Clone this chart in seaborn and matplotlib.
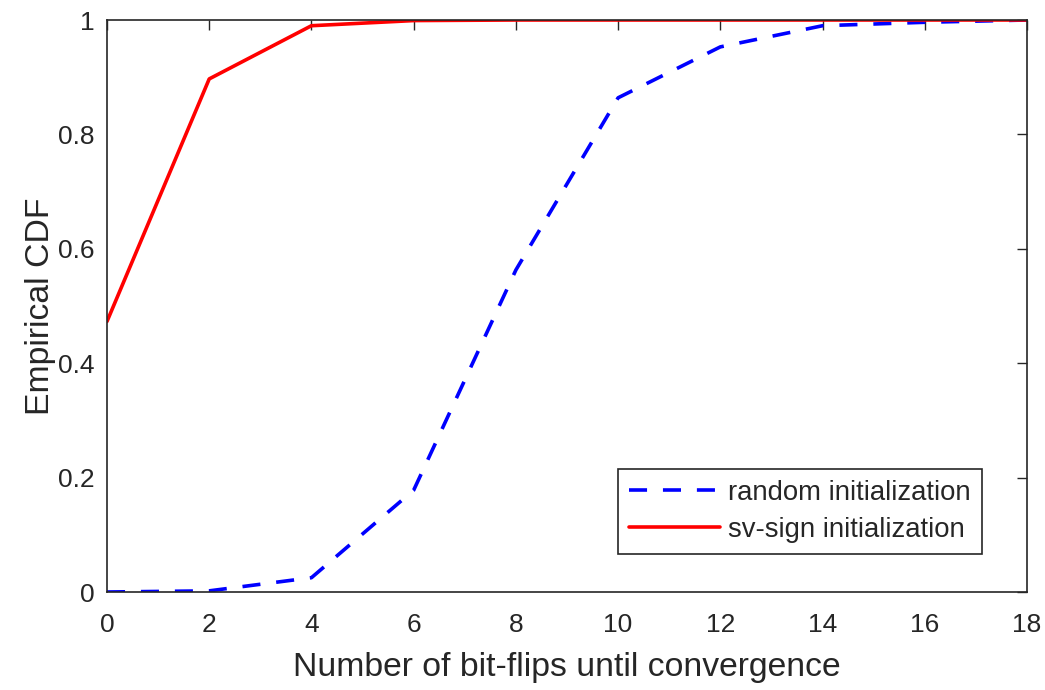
import pandas as pd
import matplotlib
matplotlib.use("Agg")
import matplotlib.pyplot as plt
import seaborn as sns

# values
flips = [0, 2, 4, 6, 8, 10, 12, 14, 16, 18]
cdf_random = [0.0, 0.002, 0.025, 0.178, 0.563, 0.864, 0.953, 0.990, 0.996, 1.0]
cdf_svsign = [0.473, 0.897, 0.990, 0.999, 1.0, 1.0, 1.0, 1.0, 1.0, 1.0]

df = pd.DataFrame({"flips": flips, "random": cdf_random, "svsign": cdf_svsign})

sns.set_style("white")
plt.rcParams['font.family'] = ['Liberation Sans', 'DejaVu Sans']

fig = plt.figure(figsize=(10.45, 6.9), dpi=100)
ax = fig.add_axes([107 / 1045, 1 - 592 / 690, 920 / 1045, 572 / 690])

sns.lineplot(data=df, x="flips", y="random", ax=ax, color="#0000ff",
             linewidth=2.6, linestyle=(0, (5.0, 4.4)), label="random initialization")
sns.lineplot(data=df, x="flips", y="svsign", ax=ax, color="#ff0000",
             linewidth=2.6, label="sv-sign initialization")

ax.set_xlim(0, 18)
ax.set_ylim(0, 1)
ax.set_xticks(range(0, 19, 2))
ax.set_yticks([0, 0.2, 0.4, 0.6, 0.8, 1])
ax.set_yticklabels(["0", "0.2", "0.4", "0.6", "0.8", "1"])
ax.tick_params(direction="in", length=7, width=1, colors="#262626",
               top=True, right=True, labelsize=19)
ax.tick_params(axis="x", pad=15)
ax.tick_params(axis="y", pad=9)
for s in ax.spines.values():
    s.set_color("#262626")
    s.set_linewidth(1.2)

ax.set_xlabel("Number of bit-flips until convergence", fontsize=24.3, color="#262626", labelpad=11)
ax.set_ylabel("Empirical CDF", fontsize=24.3, color="#262626", labelpad=1)

leg = ax.legend(loc="lower right",
                bbox_to_anchor=((982 - 107) / 920, (592 - 554) / 572),
                fontsize=19.8, frameon=True, fancybox=False, handlelength=3.3,
                borderpad=0.4, labelspacing=0.4, handletextpad=0.3,
                borderaxespad=0)
leg.get_frame().set_edgecolor("#262626")
leg.get_frame().set_linewidth(1.2)
leg.get_frame().set_alpha(1)
for t in leg.get_texts():
    t.set_color("#262626")

fig.savefig("out.png", dpi=100)
